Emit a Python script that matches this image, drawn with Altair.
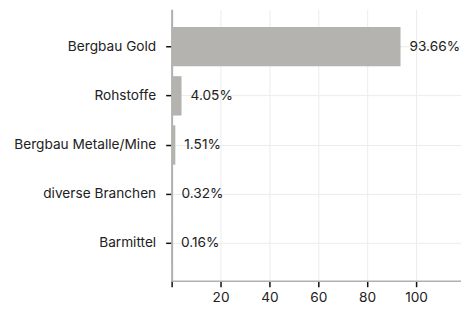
import altair as alt
import pandas as pd

categories = ["Bergbau Gold", "Rohstoffe", "Bergbau Metalle/Mine", "diverse Branchen", "Barmittel"]
values = [93.66, 4.05, 1.51, 0.32, 0.16]
labels = ["93.66%", "4.05%", "1.51%", "0.32%", "0.16%"]
tick_values = [0, 20, 40, 60, 80, 100]

df = pd.DataFrame({"cat": categories, "val": values, "lab": labels})

FONT = "Inter"
FS = 13.7
x_scale = alt.Scale(domain=[0, 118.4], nice=False, zero=True)
y_scale = alt.Scale(domain=categories, paddingInner=0.2, paddingOuter=0.36)

bars = alt.Chart(df).mark_bar(color="#b4b3af").encode(
    x=alt.X("val:Q", scale=x_scale, title=None,
            axis=alt.Axis(values=tick_values, labelExpr="datum.value == 0 ? '' : datum.label",
                          grid=True, gridColor="#ececec", domainColor="#b0b0b0", domainWidth=1.5,
                          tickColor="#111", tickWidth=1.5, tickSize=6, labelPadding=4,
                          labelFont=FONT, labelFontSize=FS, labelColor="#222")),
    y=alt.Y("cat:N", scale=y_scale, sort=categories, title=None,
            axis=alt.Axis(grid=True, gridColor="#ececec", domainColor="#b0b0b0", domainWidth=2,
                          tickColor="#111", tickWidth=1.5, tickSize=6, labelPadding=10,
                          labelFont=FONT, labelFontSize=FS, labelColor="#222")),
)

text = alt.Chart(df).mark_text(align="left", baseline="middle", dx=9, font=FONT,
                               fontSize=FS, color="#222").encode(
    x=alt.X("val:Q", scale=x_scale),
    y=alt.Y("cat:N", scale=y_scale, sort=categories),
    text="lab:N",
)

chart = alt.layer(bars, text).properties(
    width=290, height=272,
    padding={"left": 5, "top": 1, "right": 0, "bottom": 0},
).configure_view(stroke=None)

chart.save("out.html", embed_options={"renderer": "svg", "actions": False})
